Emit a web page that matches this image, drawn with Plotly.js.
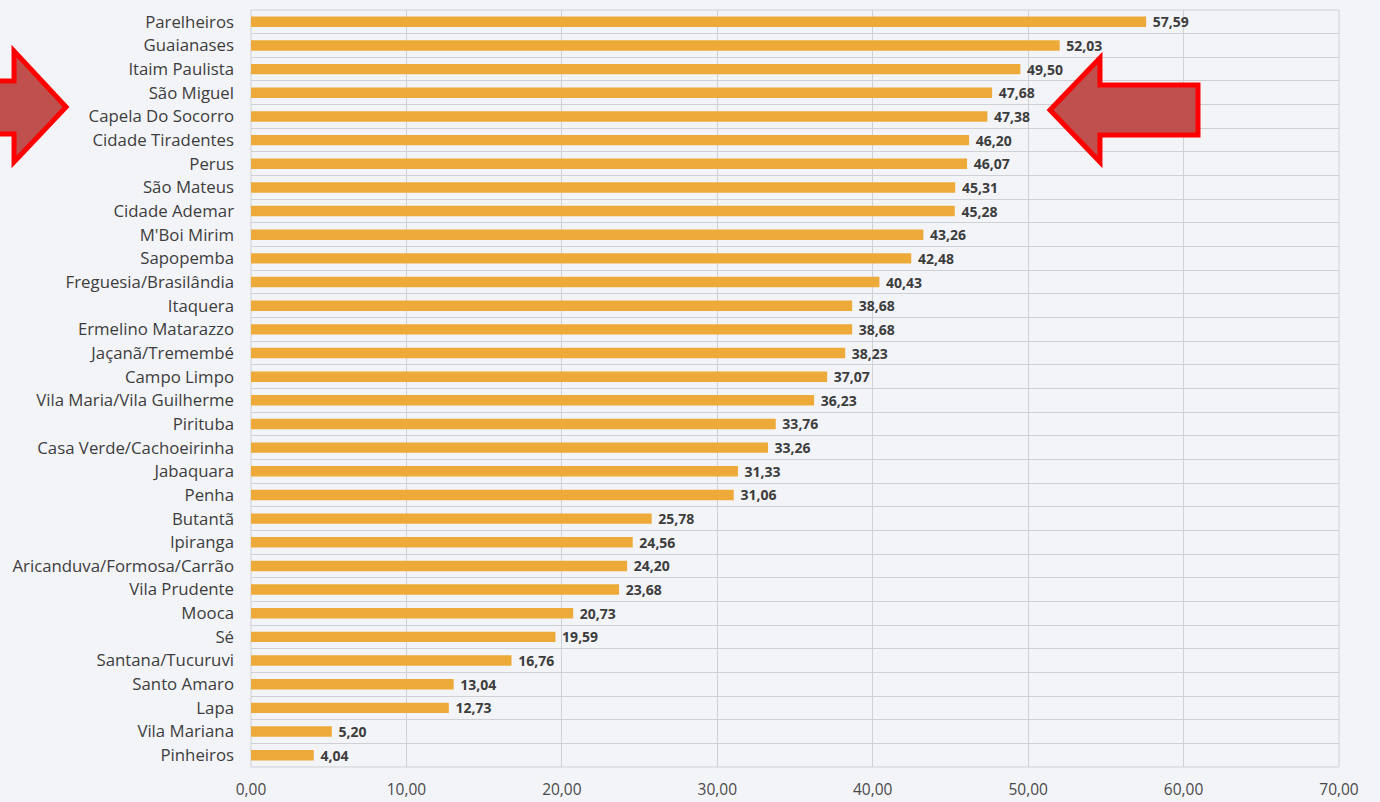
<!DOCTYPE html>
<html>
<head>
<meta charset="utf-8">
<script src="https://cdn.plot.ly/plotly-3.0.1.min.js"></script>
<style>html,body{margin:0;padding:0;background:#f3f4f8;}#chart{width:1380px;height:802px;}</style>
</head>
<body>
<div id="chart"></div>
<script>
const districts = ["Parelheiros","Guaianases","Itaim Paulista","São Miguel","Capela Do Socorro","Cidade Tiradentes","Perus","São Mateus","Cidade Ademar","M'Boi Mirim","Sapopemba","Freguesia/Brasilândia","Itaquera","Ermelino Matarazzo","Jaçanã/Tremembé","Campo Limpo","Vila Maria/Vila Guilherme","Pirituba","Casa Verde/Cachoeirinha","Jabaquara","Penha","Butantã","Ipiranga","Aricanduva/Formosa/Carrão","Vila Prudente","Mooca","Sé","Santana/Tucuruvi","Santo Amaro","Lapa","Vila Mariana","Pinheiros"];
const values = [57.59,52.03,49.50,47.68,47.38,46.20,46.07,45.31,45.28,43.26,42.48,40.43,38.68,38.68,38.23,37.07,36.23,33.76,33.26,31.33,31.06,25.78,24.56,24.20,23.68,20.73,19.59,16.76,13.04,12.73,5.20,4.04];
const xTicks = [0,10,20,30,40,50,60,70];

const W = 1380, H = 802;
const M = {l: 251, r: 41, t: 10, b: 35};
const pw = W - M.l - M.r, ph = H - M.t - M.b;
function px(x){ return ((x - M.l) / pw).toFixed(4); }
function py(y){ return (1 - (y - M.t) / ph).toFixed(4); }
function pathFrom(pts){
  return pts.map((p,i)=> (i? 'L':'M') + px(p[0]) + ',' + py(p[1])).join(' ') + ' Z';
}
// arrow outlines (pixel positions in the page)
const leftArrow = [[-10,81],[14,81],[14,51],[66,107],[14,162],[14,134],[-10,134]];
const rightArrow = [[1198,85],[1100,85],[1100,58],[1050,110],[1100,162],[1100,135],[1198,135]];

const trace = {
  type: 'bar',
  orientation: 'h',
  y: districts,
  x: values,
  marker: {color: '#eeaa38'},
  text: values,
  texttemplate: '\u00a0%{x:.2f}',
  textposition: 'outside',
  constraintext: 'none',
  cliponaxis: false,
  textfont: {family: 'Open Sans, sans-serif', size: 14, color: '#3d3d3d', weight: 'bold'},
  hoverinfo: 'skip'
};

const layout = {
  width: W, height: H,
  margin: M,
  paper_bgcolor: '#f3f4f8',
  plot_bgcolor: '#f3f4f8',
  separators: ',.',
  bargap: 0.56,
  showlegend: false,
  xaxis: {
    range: [0, 70],
    tickvals: xTicks,
    tickformat: '.2f',
    showgrid: true,
    gridcolor: '#cfd0d6',
    gridwidth: 1,
    zeroline: false,
    showline: false,
    ticks: 'outside',
    ticklen: 8,
    tickcolor: 'rgba(0,0,0,0)',
    tickfont: {family: 'Open Sans, sans-serif', size: 15.5, color: '#4a4a4a'}
  },
  yaxis: {
    type: 'category',
    autorange: 'reversed',
    tickson: 'boundaries',
    showgrid: true,
    gridcolor: '#cfd0d6',
    gridwidth: 1,
    ticks: '',
    ticklabelstandoff: 16,
    tickfont: {family: 'Open Sans, sans-serif', size: 16.8, color: '#3d3d3d'},
    showline: false
  },
  shapes: [
    {type: 'rect', xref: 'paper', yref: 'paper', x0: 0, x1: 1, y0: 0, y1: 1,
     line: {color: '#cfd0d6', width: 1}, fillcolor: 'rgba(0,0,0,0)', layer: 'below'},
    {type: 'path', xref: 'paper', yref: 'paper', path: pathFrom(leftArrow),
     fillcolor: '#c0504d', line: {color: '#ff0000', width: 5}, layer: 'above'},
    {type: 'path', xref: 'paper', yref: 'paper', path: pathFrom(rightArrow),
     fillcolor: '#c0504d', line: {color: '#ff0000', width: 5}, layer: 'above'}
  ]
};

Plotly.newPlot('chart', [trace], layout, {displayModeBar: false, staticPlot: true});
</script>
</body>
</html>
